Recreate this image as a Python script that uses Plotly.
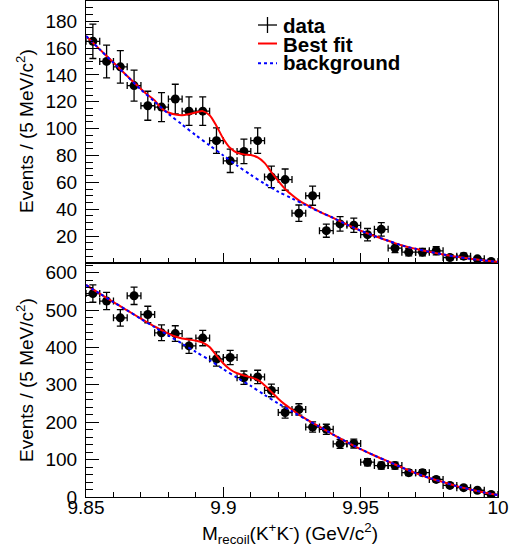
import plotly.graph_objects as go

# ---------------- data ----------------
bin_centers = [9.8525, 9.8575, 9.8625, 9.8675, 9.8725, 9.8775, 9.8825, 9.8875, 9.8925, 9.8975,
               9.9025, 9.9075, 9.9125, 9.9175, 9.9225, 9.9275, 9.9325, 9.9375, 9.9425, 9.9475,
               9.9525, 9.9575, 9.9625, 9.9675, 9.9725, 9.9775, 9.9825, 9.9875, 9.9925, 9.9975]
half_bin = 0.0025

top_counts = [165, 150, 146, 132, 117, 116, 122, 113, 113, 91,
              76, 83, 91, 64, 62, 37, 50, 24, 29, 28,
              21, 25, 11, 8, 8, 9, 4, 5, 3, 1]
top_errors = [12.8, 12.2, 12.1, 11.5, 10.8, 10.8, 11.0, 10.6, 10.6, 9.5,
              8.7, 9.1, 9.5, 8.0, 7.9, 6.1, 7.1, 4.9, 5.4, 5.3,
              4.6, 5.0, 3.3, 2.8, 2.8, 3.0, 2.0, 2.2, 1.7, 1.0]

bot_counts = [544, 524, 479, 538, 488, 439, 437, 404, 425, 369,
              373, 319, 321, 285, 226, 234, 187, 181, 142, 143,
              93, 84, 84, 65, 65, 47, 31, 25, 18, 7]
bot_errors = [23.3, 22.9, 21.9, 23.2, 22.1, 21.0, 20.9, 20.1, 20.6, 19.2,
              19.3, 17.9, 17.9, 16.9, 15.0, 15.3, 13.7, 13.5, 11.9, 12.0,
              9.6, 9.2, 9.2, 8.1, 8.1, 6.9, 5.6, 5.0, 4.2, 2.6]

# background curves (sampled)
bkg_x = [9.85, 9.855, 9.86, 9.865, 9.87, 9.875, 9.88, 9.885, 9.89, 9.895,
         9.90, 9.905, 9.91, 9.915, 9.92, 9.925, 9.93, 9.935, 9.94, 9.945,
         9.95, 9.955, 9.96, 9.965, 9.97, 9.975, 9.98, 9.985, 9.99, 9.995, 10.0]
top_bkg = [169, 159, 149, 139, 129, 120, 111, 103, 95, 87.5,
           80, 72.5, 65.5, 59, 53, 48, 43, 38, 33.5, 28.5,
           24, 20, 16.5, 13, 10.5, 8.3, 6.3, 4.5, 3.0, 1.8, 0.8]
bot_bkg = [567, 544, 521, 499, 476, 454, 432, 410, 388, 366,
           342, 319, 297, 273, 250, 229, 208, 188, 167, 147,
           128, 111, 95, 79, 64, 51, 40, 29, 20, 12, 5]

# best-fit curves (sampled)
fit_x = [9.85, 9.855, 9.86, 9.865, 9.87, 9.8725, 9.875, 9.8775, 9.88, 9.8825,
         9.885, 9.8875, 9.89, 9.8925, 9.895, 9.8975, 9.90, 9.9025, 9.905, 9.9075,
         9.91, 9.9125, 9.915, 9.9175, 9.92, 9.9225, 9.925, 9.9275, 9.93, 9.935,
         9.94, 9.945, 9.95, 9.955, 9.96, 9.965, 9.97, 9.975, 9.98, 9.985,
         9.99, 9.995, 10.0]
top_fit = [169, 159, 149.2, 139.2, 129.5, 125, 121, 115, 112, 110.5,
           110, 110.8, 112, 113, 110, 102, 92.5, 85.5, 82, 80.8,
           80.3, 78.5, 74.5, 67.5, 61, 55, 50.5, 46.5, 43.5, 38.2,
           33.5, 28.5, 24, 20, 16.5, 13, 10.5, 8.3, 6.3, 4.5,
           3.0, 1.8, 0.8]
bot_fit = [567, 544, 521, 499, 477, 466, 456, 446, 437, 429,
           424, 421, 418, 413, 401, 378, 357, 341, 331, 325,
           320, 313, 299, 281, 263, 247, 234, 220, 209, 188,
           167, 147, 128, 111, 95, 79, 64, 51, 40, 29,
           20, 12, 5]

x_tickvals = [9.85, 9.9, 9.95, 10.0]
x_ticktext = ["9.85", "9.9", "9.95", "10"]
top_yticks = [20, 40, 60, 80, 100, 120, 140, 160, 180]
bot_yticks = [0, 100, 200, 300, 400, 500, 600]

# ---------------- figure ----------------
FONT = "Liberation Sans"
fig = go.Figure()


def add_panel(counts, errors, bkg, fit, xa, ya):
    fig.add_trace(go.Scatter(
        x=bin_centers, y=counts, mode="markers", xaxis=xa, yaxis=ya,
        marker=dict(color="black", size=9, symbol="circle"),
        error_y=dict(type="data", array=errors, color="black", thickness=1.3, width=3.5),
        error_x=dict(type="constant", value=half_bin, color="black", thickness=1.3, width=3.5),
        showlegend=False, hoverinfo="skip"))
    fig.add_trace(go.Scatter(
        x=fit_x, y=fit, mode="lines", xaxis=xa, yaxis=ya,
        line=dict(color="rgb(255,0,0)", width=2, shape="spline", smoothing=0.8),
        showlegend=False, hoverinfo="skip"))
    fig.add_trace(go.Scatter(
        x=bkg_x, y=bkg, mode="lines", xaxis=xa, yaxis=ya,
        line=dict(color="rgb(0,0,255)", width=2, dash="3px,3px", shape="spline", smoothing=0.8),
        showlegend=False, hoverinfo="skip"))


add_panel(top_counts, top_errors, top_bkg, top_fit, "x2", "y2")
add_panel(bot_counts, bot_errors, bot_bkg, bot_fit, "x", "y")

axis_common = dict(showline=True, linecolor="black", linewidth=1, mirror=True,
                   showgrid=False, zeroline=False, ticks="inside", tickcolor="black",
                   tickfont=dict(family=FONT, size=19, color="black"))

fig.update_layout(
    width=520, height=544,
    margin=dict(l=86, r=22, t=1, b=47),
    paper_bgcolor="white", plot_bgcolor="white",
    xaxis=dict(domain=[0, 1], range=[9.85, 10.0], anchor="y",
               tickvals=x_tickvals, ticktext=x_ticktext, ticklen=10, tickwidth=1,
               ticklabelstandoff=-7,
               minor=dict(dtick=0.01, tick0=9.85, ticklen=5, ticks="inside", tickcolor="black"),
               **axis_common),
    xaxis2=dict(domain=[0, 1], range=[9.85, 10.0], anchor="y2", matches="x",
                tickvals=x_tickvals, showticklabels=False, ticklen=10, tickwidth=1,
                minor=dict(dtick=0.01, tick0=9.85, ticklen=5, ticks="inside", tickcolor="black"),
                **axis_common),
    yaxis=dict(domain=[0, 0.472], range=[0, 626], anchor="x",
               tickvals=bot_yticks, ticklen=13, tickwidth=1, ticklabelstandoff=4,
               minor=dict(dtick=20, tick0=0, ticklen=7, ticks="inside", tickcolor="black"),
               **axis_common),
    yaxis2=dict(domain=[0.472, 1], range=[0, 195], anchor="x2",
                tickvals=top_yticks, ticklen=13, tickwidth=1, ticklabelstandoff=4,
                minor=dict(dtick=5, tick0=0, ticklen=7, ticks="inside", tickcolor="black"),
                **axis_common),
)

title_font = dict(family=FONT, size=19, color="black")
annotations = [
    dict(text="Events / (5 MeV/c<sup>2</sup>)", xref="paper", yref="paper",
         x=-0.148, y=0.738, textangle=-90, showarrow=False, font=title_font,
         xanchor="center", yanchor="middle"),
    dict(text="Events / (5 MeV/c<sup>2</sup>)", xref="paper", yref="paper",
         x=-0.148, y=0.236, textangle=-90, showarrow=False, font=title_font,
         xanchor="center", yanchor="middle"),
    dict(text="M<sub>recoil</sub>(K<sup>+</sup>K<sup>-</sup>) (GeV/c<sup>2</sup>)",
         xref="paper", yref="paper", x=0.495, y=-0.074, showarrow=False,
         font=title_font, xanchor="center", yanchor="middle"),
]

legend_font = dict(family=FONT, size=20.5, color="black")
legend_items = [("<b>data</b>", 0.9516), ("<b>Best fit</b>", 0.9113), ("<b>background</b>", 0.877)]
for txt, yy in legend_items:
    annotations.append(dict(text=txt, xref="paper", yref="paper", x=0.4757, y=yy,
                            showarrow=False, font=legend_font, xanchor="left", yanchor="middle",
                            borderpad=0))
fig.update_layout(annotations=annotations)

shapes = [
    dict(type="line", xref="paper", yref="paper", x0=0.4175, x1=0.4636, y0=0.9516, y1=0.9516,
         line=dict(color="black", width=1.3)),
    dict(type="line", xref="paper", yref="paper", x0=0.4405, x1=0.4405, y0=0.9677, y1=0.9355,
         line=dict(color="black", width=1.3)),
    dict(type="line", xref="paper", yref="paper", x0=0.4175, x1=0.4636, y0=0.9143, y1=0.9143,
         line=dict(color="rgb(255,0,0)", width=2)),
    dict(type="line", xref="paper", yref="paper", x0=0.4175, x1=0.4636, y0=0.8744, y1=0.8744,
         line=dict(color="rgb(0,0,255)", width=2, dash="3px,3px")),
]
fig.update_layout(shapes=shapes)

fig.write_html("out.html", config={"displayModeBar": False},
               post_script="document.body.style.margin='0px';")
